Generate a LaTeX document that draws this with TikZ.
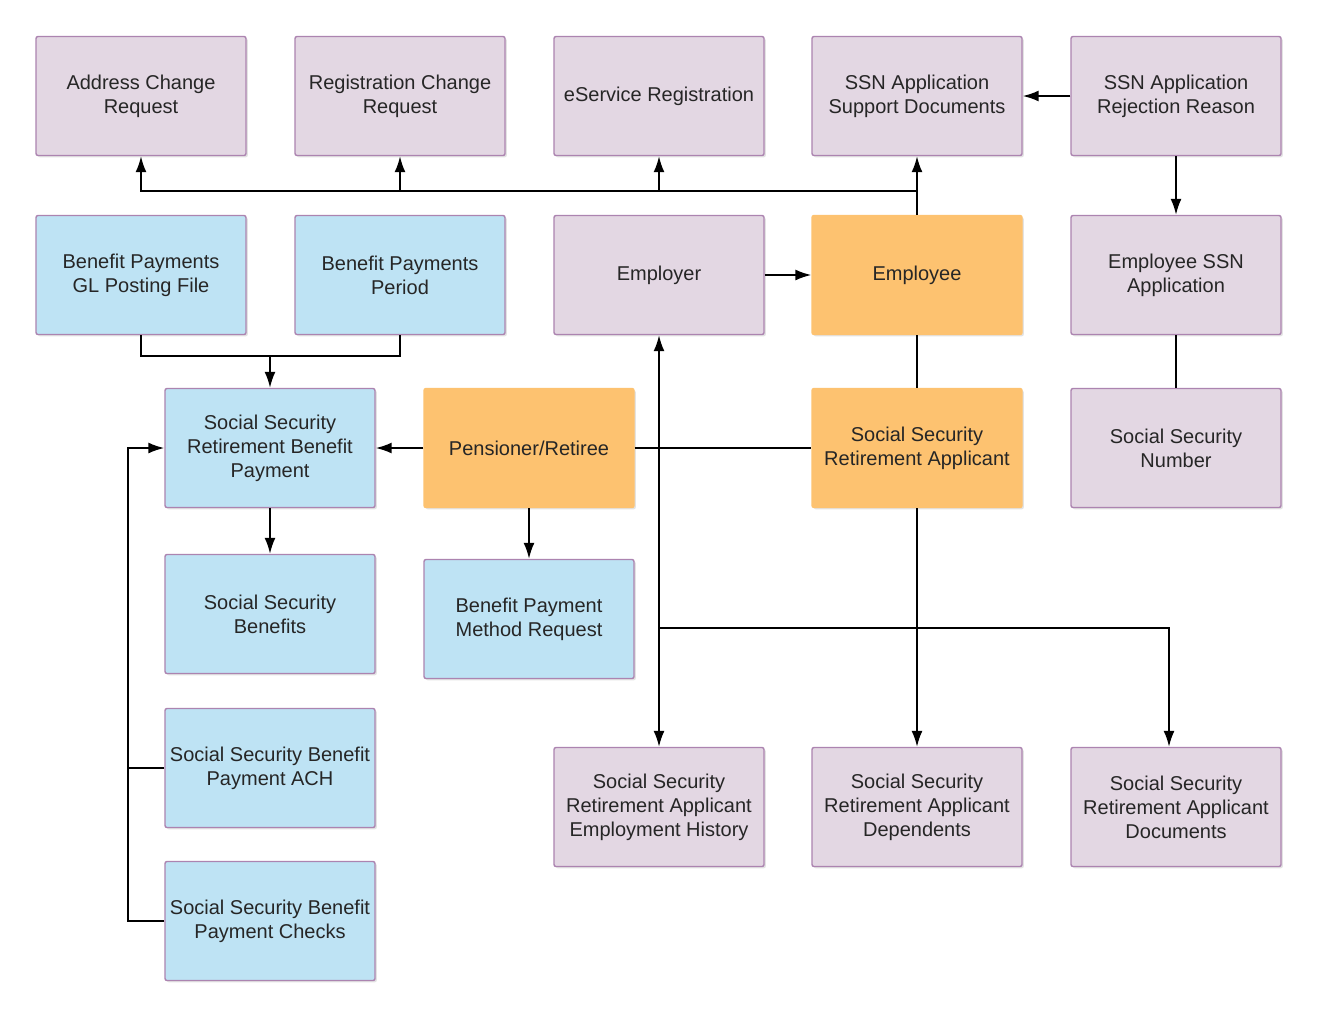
\documentclass[tikz,border=0pt]{standalone}
\usepackage{fontspec}
\setmainfont{Liberation Sans}
\usepackage{tikz}
\usetikzlibrary{arrows.meta,positioning,shadows,calc}
\definecolor{entitypurple}{RGB}{227,215,227}
\definecolor{entityborder}{RGB}{172,132,176}
\definecolor{paymentblue}{RGB}{190,227,244}
\definecolor{personorange}{RGB}{253,194,112}

\begin{document}
\begin{tikzpicture}[x=0.5pt,y=-0.5pt,
  box/.style={rectangle, rounded corners=1pt, minimum width=105pt, minimum height=59.5pt,
    inner xsep=1.5pt, align=center, font=\fontsize{10}{12}\selectfont, text=black!85,
    draw=entityborder, line width=0.7pt,
    drop shadow={opacity=0.22, shadow xshift=0.9pt, shadow yshift=-0.9pt}},
  purplebox/.style={box, fill=entitypurple},
  bluebox/.style={box, fill=paymentblue},
  orangebox/.style={box, fill=personorange, draw=personorange},
  link/.style={line width=0.9pt},
  arrow/.style={link, -{Latex[length=8pt,width=5.5pt]}}]
\fill[white] (0,0) rectangle (1320,1018);

% top row
\node[purplebox] (address) at (141,96) {Address Change\\Request};
\node[purplebox] (regchange) at (400,96) {Registration Change\\Request};
\node[purplebox] (eservice) at (659,96) {eService Registration};
\node[purplebox] (ssndocs) at (917,96) {SSN Application\\Support Documents};
\node[purplebox] (rejection) at (1176,96) {SSN Application\\Rejection Reason};

% second row
\node[bluebox] (glfile) at (141,275) {Benefit Payments\\GL Posting File};
\node[bluebox] (period) at (400,275) {Benefit Payments\\Period};
\node[purplebox] (employer) at (659,275) {Employer};
\node[orangebox] (employee) at (917,275) {Employee};
\node[purplebox] (ssnapp) at (1176,275) {Employee SSN\\Application};

% third row
\node[bluebox] (retpay) at (270,448) {Social Security\\Retirement Benefit\\Payment};
\node[orangebox] (pensioner) at (529,448) {Pensioner/Retiree};
\node[orangebox] (applicant) at (917,448) {Social Security\\Retirement Applicant};
\node[purplebox] (ssnumber) at (1176,448) {Social Security\\Number};

% payment column
\node[bluebox] (ssbenefits) at (270,614) {Social Security\\Benefits};
\node[bluebox] (methodreq) at (529,619) {Benefit Payment\\Method Request};
\node[bluebox] (ach) at (270,768) {Social Security Benefit\\Payment ACH};
\node[bluebox] (checks) at (270,921) {Social Security Benefit\\Payment Checks};

% applicant details
\node[purplebox] (history) at (659,807) {Social Security\\Retirement Applicant\\Employment History};
\node[purplebox] (dependents) at (917,807) {Social Security\\Retirement Applicant\\Dependents};
\node[purplebox] (documents) at (1176,807) {Social Security\\Retirement Applicant\\Documents};

% connectors
\coordinate (topbus) at (917,191);
\draw[arrow] (employee.north) -- (ssndocs.south);
\draw[arrow] (topbus) -| (address.south);
\draw[arrow] (topbus) -| (regchange.south);
\draw[arrow] (topbus) -| (eservice.south);
\draw[arrow] (rejection.west) -- (ssndocs.east);
\draw[arrow] (rejection.south) -- (ssnapp.north);
\draw[link] (ssnapp.south) -- (ssnumber.north);
\draw[arrow] (employer.east) -- (employee.west);

\coordinate (glbus) at (270,356);
\draw[link] (glfile.south) |- (glbus) -| (period.south);
\draw[arrow] (glbus) -- (retpay.north);

\draw[arrow] (pensioner.west) -- (retpay.east);
\draw[link] (pensioner.east) -- (applicant.west);
\draw[link] (employee.south) -- (applicant.north);
\draw[arrow] (pensioner.south) -- (methodreq.north);
\draw[arrow] (retpay.south) -- (ssbenefits.north);

\coordinate (leftbus) at (128,448);
\draw[arrow] (checks.west) -| (leftbus) -- (retpay.west);
\draw[link] (ach.west) -- (ach.west -| leftbus);

\coordinate (lowbus) at (659,628);
\coordinate (docbus) at (1169,628);
\draw[arrow] (lowbus) -- (employer.south);
\draw[arrow] (lowbus) -- (history.north);
\draw[arrow] (lowbus) -- (docbus) -- (docbus |- documents.north);
\draw[arrow] (applicant.south) -- (dependents.north);
\end{tikzpicture}
\end{document}
